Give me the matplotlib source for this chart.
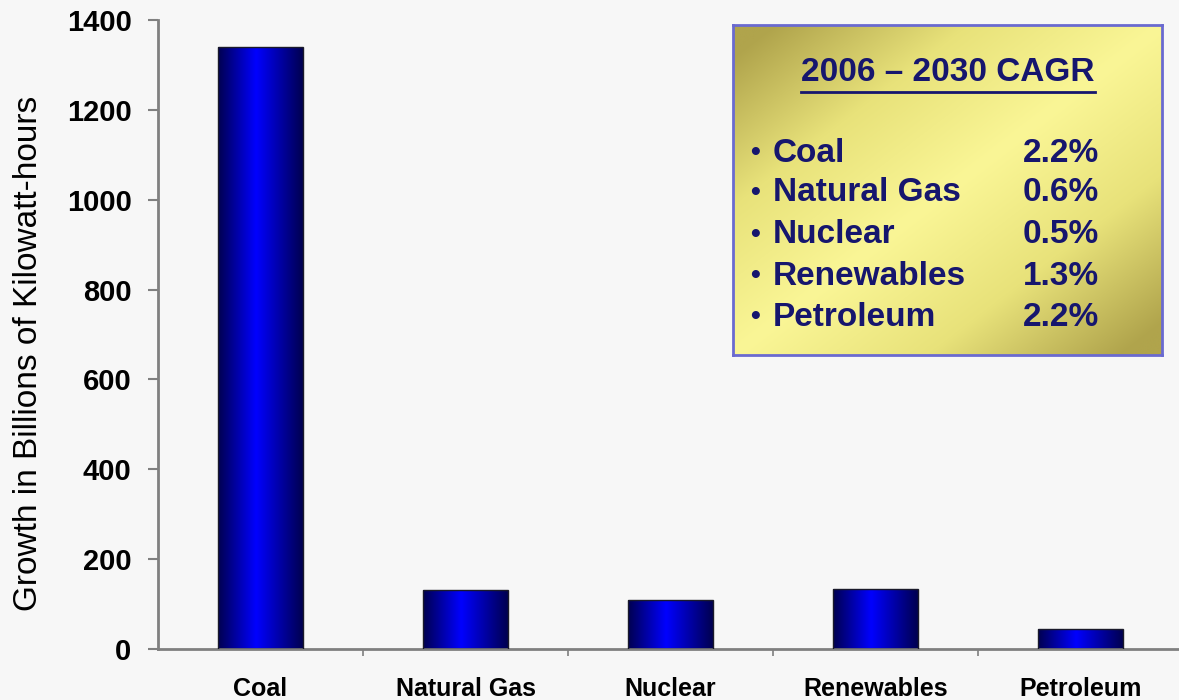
import numpy as np
import matplotlib
matplotlib.use("Agg")
import matplotlib.pyplot as plt
from matplotlib.colors import LinearSegmentedColormap
from matplotlib.lines import Line2D

# ---- data ----
categories = ["Coal", "Natural Gas", "Nuclear", "Renewables", "Petroleum"]
growth = [1340, 131, 110, 133, 44]
yticks = [0, 200, 400, 600, 800, 1000, 1200, 1400]
cagr_title = "2006 \u2013 2030 CAGR"
cagr_names = ["Coal", "Natural Gas", "Nuclear", "Renewables", "Petroleum"]
cagr_values = ["2.2%", "0.6%", "0.5%", "1.3%", "2.2%"]

plt.rcParams['font.family'] = ['Liberation Sans', 'DejaVu Sans']
BG = '#f7f7f7'

fig = plt.figure(figsize=(11.79, 7), dpi=100, facecolor=BG)
W, H = 1179, 700
ax_left, ax_right, ax_bottom, ax_top = 158, 1179, 649, 20
ax = fig.add_axes([ax_left / W, 1 - ax_bottom / H, (ax_right - ax_left) / W, (ax_bottom - ax_top) / H])
ax.set_facecolor(BG)

x = np.arange(len(categories))
bars = ax.bar(x, growth, width=0.41, color='none', edgecolor='#1a1a2a', linewidth=1.0, zorder=3)

bar_cmap = LinearSegmentedColormap.from_list(
    'barg', [(0.0, '#000050'), (0.45, '#0000ff'), (1.0, '#000050')])
grad = np.linspace(0, 1, 256).reshape(1, -1)
for b in bars:
    x0, w, h = b.get_x(), b.get_width(), b.get_height()
    im = ax.imshow(grad, cmap=bar_cmap, aspect='auto', extent=[x0, x0 + w, 0, h],
                   interpolation='bicubic', zorder=2)
    im.set_clip_path(b)

ax.set_xlim(-0.5, -0.5 + (ax_right - ax_left) / 205.0)
ax.set_ylim(0, 1400)
ax.set_yticks(yticks)
ax.set_yticklabels([str(v) for v in yticks], fontsize=21, fontweight='bold')
ax.set_xticks(x)
ax.set_xticklabels(categories, fontsize=18, fontweight='bold')
ax.set_xticks(x[:-1] + 0.5, minor=True)
ax.tick_params(axis='x', which='major', length=0, pad=20)
ax.tick_params(axis='x', which='minor', length=5, width=1.2, color='#808080', direction='out')
ax.tick_params(axis='y', length=7, width=1.5, color='#808080', pad=12)

for s in ['top', 'right']:
    ax.spines[s].set_visible(False)
for s in ['left', 'bottom']:
    ax.spines[s].set_color('#808080')
    ax.spines[s].set_linewidth(2)

ax.set_ylabel("Growth in Billions of Kilowatt-hours", fontsize=24)
ax.yaxis.set_label_coords(-(ax_left - 44) / (ax_right - ax_left), 0.47)

# ---- CAGR box ----
bx0, bx1, by0, by1 = 733, 1162, 25, 355
bax = fig.add_axes([bx0 / W, 1 - by1 / H, (bx1 - bx0) / W, (by1 - by0) / H])
u = np.linspace(0, 1, 200)
v = np.linspace(0, 1, 160)
U, V = np.meshgrid(u, v)
t = np.clip(1 - np.abs(U + V - 1.0) * 1.1, 0, 1)
box_cmap = LinearSegmentedColormap.from_list('boxg', ['#b0a44c', '#e8e27a', '#faf696'])
bax.imshow(t, cmap=box_cmap, aspect='auto', extent=[0, 1, 0, 1], interpolation='bicubic')
bax.set_xlim(0, 1)
bax.set_ylim(0, 1)
bax.set_xticks([])
bax.set_yticks([])
for s in bax.spines.values():
    s.set_color('#6a6ad0')
    s.set_linewidth(2)

NAVY = '#16166e'
title = bax.text(0.501, 0.855, cagr_title, ha='center', va='center', fontsize=24,
                 fontweight='bold', color=NAVY)
row_y = [0.612, 0.491, 0.364, 0.239, 0.115]
for yy, name, val in zip(row_y, cagr_names, cagr_values):
    bax.text(0.04, yy, "\u2022", ha='left', va='center', fontsize=20, fontweight='bold', color=NAVY)
    bax.text(0.093, yy, name, ha='left', va='center', fontsize=24, fontweight='bold', color=NAVY)
    bax.text(0.853, yy, val, ha='right', va='center', fontsize=24, fontweight='bold', color=NAVY)

# underline for the title
fig.canvas.draw()
r = fig.canvas.get_renderer()
bb = title.get_window_extent(renderer=r).transformed(bax.transAxes.inverted())
uy = bb.y0 - 0.012
bax.add_line(Line2D([bb.x0, bb.x1], [uy, uy], color=NAVY, linewidth=2, transform=bax.transAxes))

fig.savefig("out.png", dpi=100, facecolor=BG)
